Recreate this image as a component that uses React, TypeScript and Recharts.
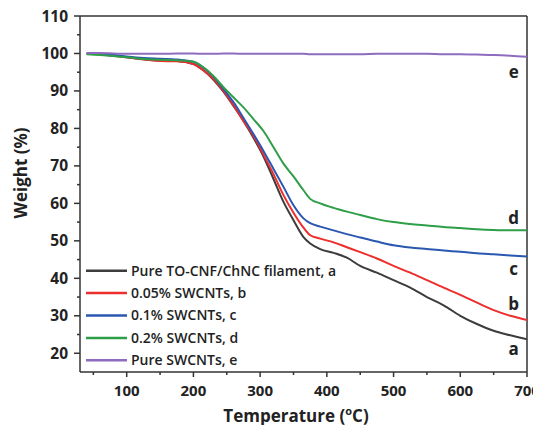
import React from 'react';
import {
  LineChart, Line, XAxis, YAxis, ReferenceLine, ReferenceDot, Customized,
} from 'recharts';

const TEMPS = [40, 60, 80, 100, 125, 150, 175, 200, 215, 230, 245, 260, 275, 290, 305, 320, 335, 350, 365, 375, 390, 410, 430, 450, 475, 500, 525, 550, 575, 600, 625, 650, 675, 700];

const SERIES_A = [100.0, 99.8, 99.5, 99.0, 98.5, 98.1, 98.0, 97.2, 95.5, 93.0, 89.8, 86.0, 82.0, 77.5, 72.5, 66.5, 60.4, 55.5, 51.0, 49.3, 47.8, 46.8, 45.5, 43.3, 41.5, 39.5, 37.5, 35.0, 32.8, 30.0, 27.8, 26.0, 24.8, 23.7];
const SERIES_B = [100.0, 99.8, 99.4, 99.0, 98.4, 98.0, 97.9, 97.2, 95.5, 93.2, 90.0, 86.2, 82.0, 78.0, 73.0, 67.8, 62.2, 57.5, 53.5, 51.5, 50.6, 49.6, 48.3, 47.0, 45.3, 43.3, 41.5, 39.5, 37.5, 35.6, 33.5, 31.5, 30.0, 28.9];
const SERIES_C = [100.0, 99.9, 99.6, 99.2, 98.8, 98.6, 98.4, 97.8, 96.2, 93.8, 90.5, 87.0, 82.8, 78.5, 74.0, 69.2, 64.4, 59.5, 56.0, 54.7, 53.8, 52.8, 51.8, 50.9, 49.8, 48.8, 48.2, 47.8, 47.4, 47.1, 46.7, 46.4, 46.1, 45.8];
const SERIES_D = [99.8, 99.6, 99.3, 99.0, 98.5, 98.3, 98.2, 97.8, 96.3, 94.0, 91.0, 88.3, 85.6, 82.5, 79.3, 75.0, 70.6, 67.2, 63.5, 61.2, 60.0, 58.8, 57.8, 56.9, 55.8, 55.0, 54.5, 54.1, 53.7, 53.4, 53.1, 52.9, 52.8, 52.8];
const SERIES_E = [100.1, 100.1, 100.0, 99.9, 99.9, 99.9, 100.0, 100.0, 99.9, 99.9, 100.0, 100.0, 99.9, 99.9, 99.9, 99.9, 99.9, 99.9, 99.9, 99.8, 99.8, 99.8, 99.8, 99.8, 99.9, 99.9, 99.9, 99.9, 99.8, 99.8, 99.7, 99.6, 99.4, 99.1];

const SERIES_KEYS = ['a', 'b', 'c', 'd', 'e'];
const SERIES_NAMES = ['Pure TO-CNF/ChNC filament, a', '0.05% SWCNTs, b', '0.1% SWCNTs, c', '0.2% SWCNTs, d', 'Pure SWCNTs, e'];
const SERIES_COLORS = ['#3c3c3c', '#ee2d2d', '#2a57b0', '#2f9e48', '#8d6cc0'];

const X_TICKS = [50, 100, 150, 200, 250, 300, 350, 400, 450, 500, 550, 600, 650, 700];
const Y_TICKS = [20, 25, 30, 35, 40, 45, 50, 55, 60, 65, 70, 75, 80, 85, 90, 95, 100, 105, 110];

// letter labels: [key, temperature, weight]
const END_LABELS: [string, number, number][] = [
  ['e', 680, 95.0],
  ['d', 680, 56.0],
  ['c', 680, 42.4],
  ['b', 680, 33.1],
  ['a', 680, 21.1],
];

const data = TEMPS.map((t, i) => ({
  t,
  a: SERIES_A[i],
  b: SERIES_B[i],
  c: SERIES_C[i],
  d: SERIES_D[i],
  e: SERIES_E[i],
}));

const FONT = '"Open Sans", "DejaVu Sans", sans-serif';
const AXIS_COLOR = '#333';

const XTick = (props: any) => {
  const { x, y, payload } = props;
  const axisY = y - 13;
  const major = payload.value % 100 === 0;
  return (
    <g>
      <line x1={x} x2={x} y1={axisY} y2={axisY + (major ? 5 : 3)} stroke={AXIS_COLOR} strokeWidth={1.5} />
      {major && (
        <text x={x} y={y} dy="0.71em" textAnchor="middle" fontFamily={FONT} fontWeight={700} fontSize={15} fill="#222">
          {payload.value}
        </text>
      )}
    </g>
  );
};

const YTick = (props: any) => {
  const { x, y, payload } = props;
  const axisX = x + 12;
  const major = payload.value % 10 === 0;
  return (
    <g>
      <line x1={axisX - (major ? 6 : 3)} x2={axisX} y1={y} y2={y} stroke={AXIS_COLOR} strokeWidth={1.5} />
      {major && (
        <text x={x} y={y} dy="0.355em" textAnchor="end" fontFamily={FONT} fontWeight={700} fontSize={15.5} fill="#222">
          {payload.value}
        </text>
      )}
    </g>
  );
};

const Overlay = () => (
  <g transform="translate(8 8)">
    <text
      x={12}
      y={165}
      transform="rotate(-90 12 165)"
      textAnchor="middle"
      dominantBaseline="central"
      fontFamily={FONT}
      fontWeight={700}
      fontSize={17}
      fill="#222"
    >
      Weight (%)
    </text>
    <text x={288} y={414} textAnchor="middle" fontFamily={FONT} fontWeight={700} fontSize={17} fill="#222">
      <tspan>Temperature (</tspan>
      <tspan dy={-7} fontSize={11}>o</tspan>
      <tspan dy={7}>C)</tspan>
    </text>
    {SERIES_NAMES.map((name, i) => {
      const y = 262.7 + i * 22.4;
      return (
        <g key={name}>
          <line x1={78} x2={119} y1={y} y2={y} stroke={SERIES_COLORS[i]} strokeWidth={2.5} />
          <text x={123} y={y} dy="0.355em" fontFamily={FONT} fontWeight={600} fontSize={14} fill="#222">
            {name}
          </text>
        </g>
      );
    })}
  </g>
);

export default function App() {
  return (
    <div style={{ margin: -8, width: 541, height: 433, overflow: 'hidden' }}>
      <LineChart
        width={541}
        height={433}
        data={data}
        margin={{ top: 16, right: 14, left: 8, bottom: 0 }}
        style={{ background: '#fff' }}
      >
        <XAxis
          dataKey="t"
          type="number"
          domain={[30, 700]}
          ticks={X_TICKS}
          interval={0}
          allowDataOverflow
          tick={<XTick />}
          tickLine={false}
          tickSize={5}
          tickMargin={8}
          height={61}
          axisLine={{ stroke: AXIS_COLOR, strokeWidth: 1.5 }}
        />
        <YAxis
          type="number"
          domain={[15, 110]}
          ticks={Y_TICKS}
          interval={0}
          allowDataOverflow
          tick={<YTick />}
          tickLine={false}
          tickSize={6}
          tickMargin={6}
          width={72}
          axisLine={{ stroke: AXIS_COLOR, strokeWidth: 1.5 }}
        />
        <ReferenceLine y={110} stroke={AXIS_COLOR} strokeWidth={1.5} />
        <ReferenceLine x={700} stroke={AXIS_COLOR} strokeWidth={1.5} />
        {SERIES_KEYS.map((k, i) => (
          <Line
            key={k}
            dataKey={k}
            type="monotone"
            stroke={SERIES_COLORS[i]}
            strokeWidth={2}
            dot={false}
            isAnimationActive={false}
          />
        ))}
        {END_LABELS.map(([k, t, w]) => (
          <ReferenceDot
            key={k}
            x={t}
            y={w}
            r={0}
            stroke="none"
            fill="none"
            label={{ value: k, position: 'center', fontFamily: FONT, fontWeight: 700, fontSize: 17, fill: '#222' }}
          />
        ))}
        <Customized component={Overlay} />
      </LineChart>
    </div>
  );
}
